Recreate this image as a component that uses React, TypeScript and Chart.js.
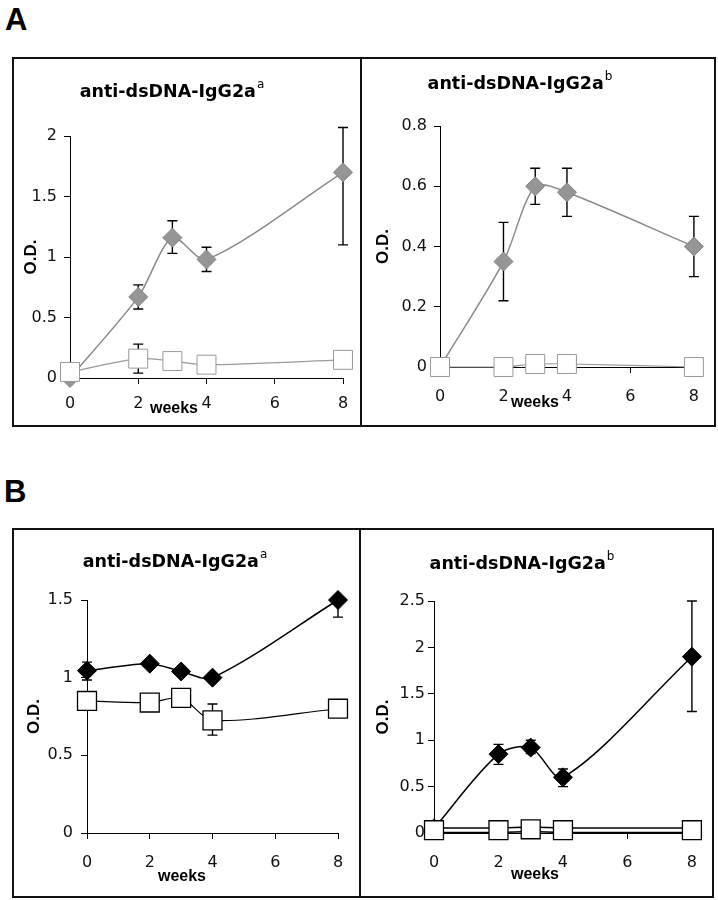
import React, { useEffect, useRef } from 'react';
import { Chart, registerables } from 'chart.js';

Chart.register(...registerables);

// ---------- data ----------
const weeks = [0, 2, 3, 4, 8];
const xTickValues = [0, 2, 4, 6, 8];

const aLeftYTicks = [0, 0.5, 1, 1.5, 2];
const aLeftDiamond = [0, 0.67, 1.16, 0.98, 1.7];
const aLeftDiamondLow = [0, 0.57, 1.03, 0.88, 1.1];
const aLeftDiamondHigh = [0, 0.77, 1.3, 1.08, 2.07];
const aLeftSquare = [0.05, 0.16, 0.14, 0.11, 0.15];
const aLeftSquareLow = [0.05, 0.04, 0.14, 0.11, 0.15];
const aLeftSquareHigh = [0.05, 0.28, 0.14, 0.11, 0.15];

const aRightYTicks = [0, 0.2, 0.4, 0.6, 0.8];
const aRightDiamond = [0, 0.35, 0.6, 0.58, 0.4];
const aRightDiamondLow = [0, 0.22, 0.54, 0.5, 0.3];
const aRightDiamondHigh = [0, 0.48, 0.66, 0.66, 0.5];
const aRightSquare = [0, 0, 0.01, 0.01, 0];

const bLeftYTicks = [0, 0.5, 1, 1.5];
const bLeftDiamond = [1.045, 1.09, 1.04, 1.0, 1.5];
const bLeftDiamondLow = [0.985, 1.09, 1.04, 1.0, 1.39];
const bLeftDiamondHigh = [1.1, 1.09, 1.04, 1.0, 1.5];
const bLeftSquare = [0.85, 0.84, 0.87, 0.725, 0.8];
const bLeftSquareLow = [0.85, 0.84, 0.87, 0.63, 0.8];
const bLeftSquareHigh = [0.85, 0.84, 0.87, 0.83, 0.8];

const bRightYTicks = [0, 0.5, 1, 1.5, 2, 2.5];
const bRightDiamond = [0.05, 0.85, 0.92, 0.6, 1.9];
const bRightDiamondLow = [0.05, 0.74, 0.855, 0.5, 1.31];
const bRightDiamondHigh = [0.05, 0.955, 1.0, 0.69, 2.5];
const bRightSquare = [0.03, 0.03, 0.04, 0.03, 0.03];

const pts = (ys: number[]) => weeks.map((x, i) => ({ x, y: ys[i] }));

// ---------- error bar plugin ----------
const errorBarPlugin = {
  id: 'errorBars',
  beforeDatasetsDraw(chart: any) {
    const { ctx } = chart;
    const xs = chart.scales.x;
    const ys = chart.scales.y;
    ctx.save();
    ctx.strokeStyle = '#000';
    ctx.lineWidth = 1.4;
    chart.data.datasets.forEach((ds: any) => {
      if (!ds.errLow || !ds.errHigh) return;
      ds.data.forEach((p: any, i: number) => {
        const lo = ds.errLow[i];
        const hi = ds.errHigh[i];
        if (lo === p.y && hi === p.y) return;
        const px = xs.getPixelForValue(p.x);
        const yl = ys.getPixelForValue(lo);
        const yh = ys.getPixelForValue(hi);
        ctx.beginPath();
        ctx.moveTo(px, yl);
        ctx.lineTo(px, yh);
        if (hi !== p.y) {
          ctx.moveTo(px - 5, yh);
          ctx.lineTo(px + 5, yh);
        }
        if (lo !== p.y) {
          ctx.moveTo(px - 5, yl);
          ctx.lineTo(px + 5, yl);
        }
        ctx.stroke();
      });
    });
    ctx.restore();
  },
};

type Box = { l: number; t: number; w: number; h: number };
type Area = { l: number; t: number; r: number; b: number };

type PanelProps = {
  canvas: Box;
  area: Area;
  yMax: number;
  yTicks: number[];
  odPad: number;
  yTickPad: number;
  xTickPad: number;
  datasets: any[];
  title: { cx: number; top: number; sup: string };
  weeksPos: { cx: number; top: number };
};

function Panel(p: PanelProps) {
  const ref = useRef<HTMLCanvasElement>(null);
  useEffect(() => {
    if (!ref.current) return;
    const yW = p.area.l - p.canvas.l;
    const xH = p.canvas.t + p.canvas.h - p.area.b;
    const chart = new Chart(ref.current, {
      type: 'line',
      data: { datasets: p.datasets },
      plugins: [errorBarPlugin],
      options: {
        responsive: false,
        animation: false,
        devicePixelRatio: 1,
        events: [],
        layout: {
          padding: {
            left: 0,
            top: p.area.t - p.canvas.t,
            right: p.canvas.l + p.canvas.w - p.area.r,
            bottom: 0,
          },
        },
        plugins: {
          legend: { display: false },
          title: { display: false },
          tooltip: { enabled: false },
        },
        scales: {
          x: {
            type: 'linear',
            min: 0,
            max: 8,
            afterBuildTicks: (s: any) => {
              s.ticks = xTickValues.map((v) => ({ value: v }));
            },
            afterFit: (s: any) => {
              s.height = xH;
            },
            grid: { drawOnChartArea: false, drawTicks: true, tickLength: 6, color: '#000', lineWidth: 1 },
            border: { display: true, color: '#000', width: 1 },
            ticks: {
              font: { family: 'DejaVu Sans', size: 16 },
              color: '#111',
              padding: p.xTickPad,
              maxRotation: 0,
              autoSkip: false,
            },
          },
          y: {
            type: 'linear',
            min: 0,
            max: p.yMax,
            afterBuildTicks: (s: any) => {
              s.ticks = p.yTicks.map((v) => ({ value: v }));
            },
            afterFit: (s: any) => {
              s.width = yW;
            },
            grid: { drawOnChartArea: false, drawTicks: true, tickLength: 6, color: '#000', lineWidth: 1 },
            border: { display: true, color: '#000', width: 1 },
            ticks: {
              font: { family: 'DejaVu Sans', size: 16 },
              color: '#111',
              padding: p.yTickPad,
              autoSkip: false,
              callback: (v: any) => String(v),
            },
            title: {
              display: true,
              text: 'O.D.',
              color: '#000',
              font: { family: 'Liberation Sans', weight: 'bold', size: 17 },
              padding: { top: p.odPad, bottom: 0 },
            },
          },
        },
      } as any,
    });
    return () => chart.destroy();
  }, []);

  return (
    <>
      <canvas
        ref={ref}
        width={p.canvas.w}
        height={p.canvas.h}
        style={{ position: 'absolute', left: p.canvas.l, top: p.canvas.t, width: p.canvas.w, height: p.canvas.h }}
      />
      <div
        style={{
          position: 'absolute',
          left: p.title.cx,
          top: p.title.top,
          transform: 'translateX(-50%)',
          whiteSpace: 'nowrap',
          fontFamily: 'DejaVu Sans',
          fontWeight: 'bold',
          fontSize: 17.5,
          lineHeight: 1,
          color: '#000',
        }}
      >
        anti-dsDNA-IgG2a
        <span style={{ fontSize: 12, fontWeight: 'normal', position: 'relative', top: -9, lineHeight: 0, marginLeft: 1 }}>
          {p.title.sup}
        </span>
      </div>
      <div
        style={{
          position: 'absolute',
          left: p.weeksPos.cx,
          top: p.weeksPos.top,
          transform: 'translateX(-50%)',
          whiteSpace: 'nowrap',
          fontFamily: 'Liberation Sans',
          fontWeight: 'bold',
          fontSize: 16,
          lineHeight: 1,
          color: '#000',
        }}
      >
        weeks
      </div>
    </>
  );
}

const grayDiamond = (ys: number[], lo: number[], hi: number[]) => ({
  data: pts(ys),
  errLow: lo,
  errHigh: hi,
  borderColor: '#8a8a8a',
  borderWidth: 1.5,
  backgroundColor: '#959595',
  pointStyle: 'rectRot',
  pointRadius: 9.5,
  pointBorderColor: '#858585',
  pointBorderWidth: 1,
  pointBackgroundColor: '#959595',
  tension: 0.28,
  clip: false,
});

const graySquare = (ys: number[], lo?: number[], hi?: number[]) => ({
  data: pts(ys),
  errLow: lo,
  errHigh: hi,
  borderColor: '#9a9a9a',
  borderWidth: 1.2,
  pointStyle: 'rect',
  pointRadius: 13.4,
  pointBorderColor: '#999',
  pointBorderWidth: 1,
  pointBackgroundColor: '#fff',
  tension: 0.28,
  clip: false,
});

const blackDiamond = (ys: number[], lo: number[], hi: number[]) => ({
  data: pts(ys),
  errLow: lo,
  errHigh: hi,
  borderColor: '#000',
  borderWidth: 1.5,
  pointStyle: 'rectRot',
  pointRadius: 9.5,
  pointBorderColor: '#000',
  pointBorderWidth: 1,
  pointBackgroundColor: '#000',
  tension: 0.3,
  clip: false,
});

const blackSquare = (ys: number[], lo?: number[], hi?: number[]) => ({
  data: pts(ys),
  errLow: lo,
  errHigh: hi,
  borderColor: '#000',
  borderWidth: 1.2,
  pointStyle: 'rect',
  pointRadius: 13.4,
  pointBorderColor: '#000',
  pointBorderWidth: 1.3,
  pointBackgroundColor: '#fff',
  tension: 0.28,
  clip: false,
});

export default function App() {
  const frame = (l: number, t: number, w: number, h: number) => (
    <div style={{ position: 'absolute', left: l, top: t, width: w, height: h, border: '2px solid #111', boxSizing: 'border-box' }} />
  );
  const vline = (x: number, t: number, h: number) => (
    <div style={{ position: 'absolute', left: x, top: t, width: 2, height: h, background: '#111' }} />
  );
  const letter = (txt: string, l: number, t: number) => (
    <div style={{ position: 'absolute', left: l, top: t, fontFamily: 'Liberation Sans', fontWeight: 'bold', fontSize: 31, lineHeight: 1, color: '#000' }}>
      {txt}
    </div>
  );

  return (
    <div style={{ position: 'absolute', left: 0, top: 0, width: 718, height: 900, background: '#fff', overflow: 'hidden' }}>
      {letter('A', 5, 4)}
      {letter('B', 4, 476)}
      {frame(12, 57, 704, 370)}
      {vline(360, 57, 370)}
      {frame(12, 528, 702, 370)}
      {vline(359, 528, 370)}

      <Panel
        canvas={{ l: 14, t: 59, w: 346, h: 366 }}
        area={{ l: 70, t: 136, r: 343, b: 378 }}
        yMax={2}
        yTicks={aLeftYTicks}
        odPad={7}
        yTickPad={7}
        xTickPad={10}
        title={{ cx: 172, top: 82.5, sup: 'a' }}
        weeksPos={{ cx: 174, top: 399.5 }}
        datasets={[
          graySquare(aLeftSquare, aLeftSquareLow, aLeftSquareHigh),
          grayDiamond(aLeftDiamond, aLeftDiamondLow, aLeftDiamondHigh),
        ]}
      />
      <Panel
        canvas={{ l: 363, t: 59, w: 350, h: 366 }}
        area={{ l: 440, t: 126, r: 696, b: 367 }}
        yMax={0.8}
        yTicks={aRightYTicks}
        odPad={10}
        yTickPad={7}
        xTickPad={14}
        title={{ cx: 520, top: 75, sup: 'b' }}
        weeksPos={{ cx: 535, top: 393.5 }}
        datasets={[
          graySquare(aRightSquare),
          grayDiamond(aRightDiamond, aRightDiamondLow, aRightDiamondHigh),
        ]}
      />
      <Panel
        canvas={{ l: 14, t: 530, w: 345, h: 366 }}
        area={{ l: 87, t: 600, r: 338, b: 833 }}
        yMax={1.5}
        yTicks={bLeftYTicks}
        odPad={10}
        yTickPad={8}
        xTickPad={14}
        title={{ cx: 175, top: 553, sup: 'a' }}
        weeksPos={{ cx: 182, top: 867.5 }}
        datasets={[
          blackSquare(bLeftSquare, bLeftSquareLow, bLeftSquareHigh),
          blackDiamond(bLeftDiamond, bLeftDiamondLow, bLeftDiamondHigh),
        ]}
      />
      <Panel
        canvas={{ l: 362, t: 530, w: 349, h: 366 }}
        area={{ l: 434, t: 601, r: 699, b: 833 }}
        yMax={2.5}
        yTicks={bRightYTicks}
        odPad={11}
        yTickPad={3}
        xTickPad={14}
        title={{ cx: 522, top: 555, sup: 'b' }}
        weeksPos={{ cx: 535, top: 865.5 }}
        datasets={[
          { ...blackSquare(bRightSquare), showLine: false },
          { data: pts(bRightSquare), borderColor: '#fff', borderWidth: 3, pointRadius: 0, tension: 0, clip: false },
          { data: pts(bRightSquare), borderColor: '#000', borderWidth: 6, pointRadius: 0, tension: 0, clip: false },
          blackDiamond(bRightDiamond, bRightDiamondLow, bRightDiamondHigh),
        ]}
      />
    </div>
  );
}
